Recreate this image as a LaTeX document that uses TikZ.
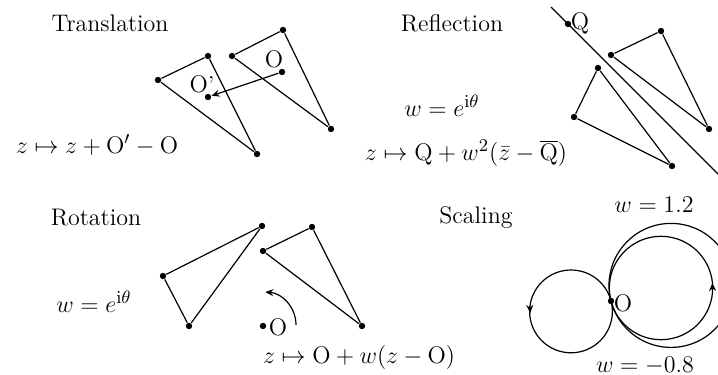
\documentclass[tikz,border=0pt]{standalone}
\usetikzlibrary{arrows.meta}
\newcommand{\Op}{\mathrm{O}}
\newcommand{\Qp}{\mathrm{Q}}
\begin{document}
\begin{tikzpicture}[x=0.5pt,y=-0.5pt, line width=0.6pt,
  pt/.style={circle,fill,inner sep=0pt,minimum size=3.2pt},
  title/.style={font=\fontsize{12}{14}\selectfont, inner sep=0pt},
  formula/.style={font=\fontsize{13}{15}\selectfont, inner sep=0pt},
  lab/.style={font=\fontsize{11.5}{14}\selectfont, inner sep=0pt},
  tip/.style={-{Stealth[length=4pt,width=3.5pt]}}]
\useasboundingbox (0,0) rectangle (718,375);
\clip (0,0) rectangle (718,375);

% ---------------- Translation ----------------
\node[title] (ttitle) at (110,23) {Translation};
\node[pt] (t1) at (232,56) {};
\node[pt] (t2) at (283,30) {};
\node[pt] (t3) at (331,129) {};
\node[pt] (u1) at (158,80) {};
\node[pt] (u2) at (208,56) {};
\node[pt] (u3) at (257,154) {};
\draw (t1) -- (t2) -- (t3) -- (t1);
\draw (u1) -- (u2) -- (u3) -- (u1);
\node[pt] (tO) at (282,72) {};
\node[pt] (tOp) at (208,97) {};
\draw[tip] (tO) -- (tOp);
\node[lab] (tOlab) at (274,59) {$\Op$};
\node[lab] (tOplab) at (202,84) {$\Op$\textquoteright};
\node[formula] (tform) at (97,145) {$z\mapsto z+\Op'-\Op$};

% ---------------- Reflection ----------------
\node[title] (rtitle) at (452,23) {Reflection};
\coordinate (l1) at (551,7);
\coordinate (l2) at (745,201);
\draw (l1) -- (l2);
\node[pt] (rQ) at (568,24) {};
\node[lab] (rQlab) at (580,24) {$\Qp$};
\node[pt] (a1) at (611,55) {};
\node[pt] (a2) at (661,31) {};
\node[pt] (a3) at (709,129) {};
\draw (a1) -- (a2) -- (a3) -- (a1);
\node[pt] (b1) at (598,68) {};
\node[pt] (b2) at (574,117) {};
\node[pt] (b3) at (672,166) {};
\draw (b1) -- (b2) -- (b3) -- (b1);
\node[formula] (rw) at (442,106) {$w=e^{\mathrm{i}\theta}$};
\node[formula] (rform) at (466,153) {$z\mapsto \Qp+w^2(\bar z-\overline{\Qp})$};

% ---------------- Rotation ----------------
\node[title] (otitle) at (96,218) {Rotation};
\node[pt] (p1) at (163,276) {};
\node[pt] (p2) at (262,226) {};
\node[pt] (p3) at (189,326) {};
\draw (p1) -- (p2) -- (p3) -- (p1);
\node[pt] (q1) at (263,251) {};
\node[pt] (q2) at (312,227) {};
\node[pt] (q3) at (362,326) {};
\draw (q1) -- (q2) -- (q3) -- (q1);
\node[pt] (oO) at (263,326) {};
\node[lab] (oOlab) at (278,327) {$\Op$};
\coordinate (arcstart) at (296,325);
\draw[tip] (arcstart) arc[start angle=0, end angle=86, radius=16.5pt];
\node[formula] (ow) at (94,302) {$w=e^{\mathrm{i}\theta}$};
\node[formula, font=\fontsize{12.5}{15}\selectfont] (oform) at (359,357) {$z\mapsto \Op+w(z-\Op)$};

% ---------------- Scaling ----------------
\node[title] (stitle) at (476,218) {Scaling};
\node[pt] (sO) at (611,301) {};
\node[lab] (sOlab) at (623,303) {$\Op$};
\coordinate (c0) at (661,288);
\coordinate (cb) at (671,285.4);
\coordinate (cs) at (571,311.4);
\draw (c0) circle[radius=51.7];
\draw (cb) circle[radius=62];
\draw (cs) circle[radius=41.4];
\coordinate (ar1a) at (712.6,290);
\coordinate (ar1b) at (712.4,283);
\draw[tip] (ar1a) -- (ar1b);
\coordinate (ar2a) at (529.8,306);
\coordinate (ar2b) at (530.3,313);
\draw[tip] (ar2a) -- (ar2b);
\node[formula] (sw1) at (654,205) {$w=1.2$};
\node[formula] (sw2) at (645,366) {$w=-0.8$};
\end{tikzpicture}
\end{document}
